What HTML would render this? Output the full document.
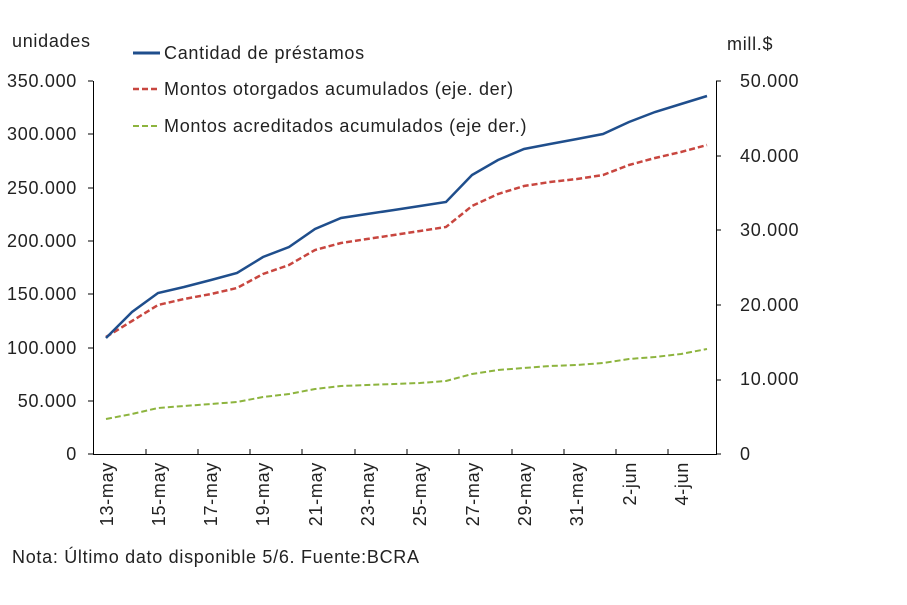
<!DOCTYPE html><html><head><style>body{margin:0;background:#fff}svg{display:block;font-family:"Liberation Sans",Arial,sans-serif}</style></head><body>
<svg width="907" height="605" viewBox="0 0 907 605">
<g font-size="18" fill="#222" letter-spacing="0.7">
<text x="12" y="47">unidades</text>
<text x="727" y="50">mill.$</text>
<g text-anchor="end">
<text x="77" y="87">350.000</text><text x="77" y="140">300.000</text><text x="77" y="194">250.000</text><text x="77" y="247">200.000</text><text x="77" y="300">150.000</text><text x="77" y="354">100.000</text><text x="77" y="407">50.000</text><text x="77" y="460">0</text>
</g>
<text x="740" y="87">50.000</text><text x="740" y="162">40.000</text><text x="740" y="236">30.000</text><text x="740" y="311">20.000</text><text x="740" y="385">10.000</text><text x="740" y="460">0</text>
<text x="12" y="563">Nota: Último dato disponible 5/6. Fuente:BCRA</text>
<g text-anchor="end">
<text transform="translate(113,462) rotate(-90)">13-may</text>
<text transform="translate(165,462) rotate(-90)">15-may</text>
<text transform="translate(217,462) rotate(-90)">17-may</text>
<text transform="translate(269,462) rotate(-90)">19-may</text>
<text transform="translate(322,462) rotate(-90)">21-may</text>
<text transform="translate(374,462) rotate(-90)">23-may</text>
<text transform="translate(426,462) rotate(-90)">25-may</text>
<text transform="translate(479,462) rotate(-90)">27-may</text>
<text transform="translate(531,462) rotate(-90)">29-may</text>
<text transform="translate(583,462) rotate(-90)">31-may</text>
<text transform="translate(636,462) rotate(-90)">2-jun</text>
<text transform="translate(688,462) rotate(-90)">4-jun</text>
</g>
<text x="164" y="59">Cantidad de préstamos</text>
<text x="164" y="95">Montos otorgados acumulados (eje. der)</text>
<text x="164" y="132">Montos acreditados acumulados (eje der.)</text>
</g>
<g stroke="#000" stroke-width="1" fill="none">
<path d="M93.5 81V454.5H716.5V81"/>
<path d="M146 454v-5M198 454v-5M250 454v-5M302 454v-5M355 454v-5M407 454v-5M459 454v-5M512 454v-5M564 454v-5M616 454v-5M668 454v-5"/>
<path d="M93 81h-5M93 134h-5M93 188h-5M93 241h-5M93 294h-5M93 348h-5M93 401h-5M93 454h-5"/>
<path d="M716 81h5M716 156h5M716 230h5M716 305h5M716 380h5M716 454h5"/>
</g>
<line x1="133" y1="53" x2="160" y2="53" stroke="#1f4e8c" stroke-width="3"/>
<line x1="133" y1="89" x2="160" y2="89" stroke="#c8463f" stroke-width="2.5" stroke-dasharray="6,3"/>
<line x1="133" y1="126" x2="160" y2="126" stroke="#8db43e" stroke-width="2" stroke-dasharray="6,3"/>
<polyline fill="none" stroke="#8db43e" stroke-width="2" stroke-dasharray="6,3" points="106,419 132,414 158,408 184,406 211,404 237,402 263,397 289,394 315,389 341,386 367,385 394,384 420,383 446,381 472,374 498,370 524,368 550,366 577,365 603,363 629,359 655,357 681,354 707,349"/>
<polyline fill="none" stroke="#c8463f" stroke-width="2.5" stroke-dasharray="6,3" points="106,337 132,321 158,305 184,299 211,294 237,288 263,274 289,265 315,250 341,243 367,239 394,235 420,231 446,227 472,206 498,194 524,186 550,182 577,179 603,175 629,165 655,158 681,152 707,145"/>
<polyline fill="none" stroke="#1f4e8c" stroke-width="2.5" points="106,338 132,312 158,293 184,287 211,280 237,273 263,257 289,247 315,229 341,218 367,214 394,210 420,206 446,202 472,175 498,160 524,149 550,144 577,139 603,134 629,122 655,112 681,104 707,96"/>
</svg></body></html>
